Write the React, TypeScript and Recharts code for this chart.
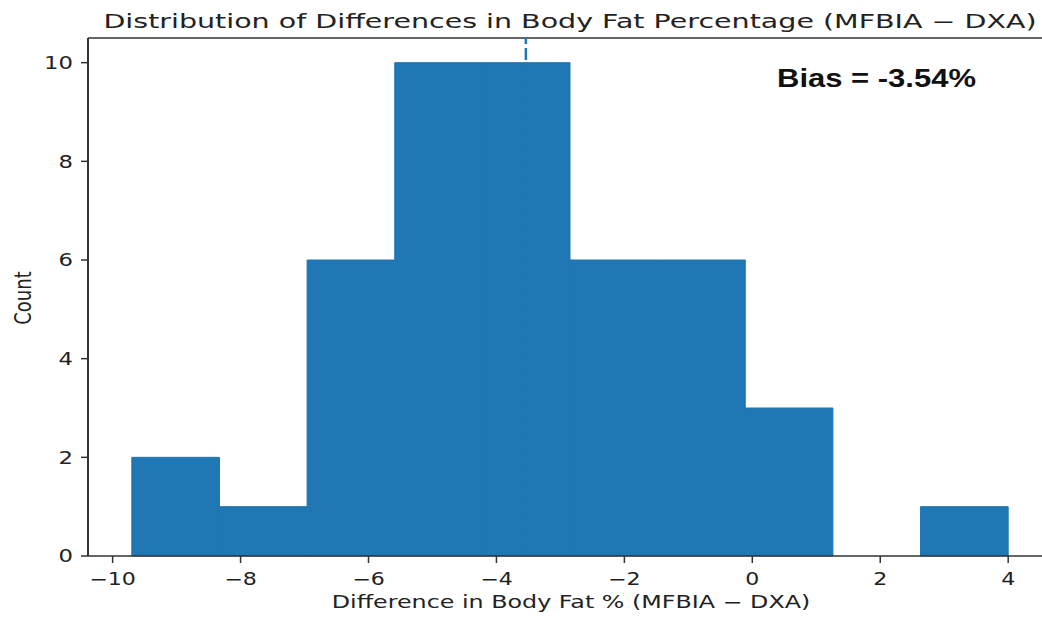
import React from "react";
import {
  ComposedChart,
  XAxis,
  YAxis,
  ReferenceArea,
  ReferenceLine,
} from "recharts";

// histogram bins
const binEdges = [-9.7, -8.33, -6.96, -5.59, -4.22, -2.85, -1.48, -0.11, 1.26, 2.63, 4.0];
const counts = [2, 1, 6, 10, 10, 6, 6, 3, 0, 1];
const bias = -3.54;
const xTicks = [-10, -8, -6, -4, -2, 0, 2, 4];
const yTicks = [0, 2, 4, 6, 8, 10];

const bins = counts.map((count, i) => ({
  x0: binEdges[i],
  x1: binEdges[i + 1],
  mid: (binEdges[i] + binEdges[i + 1]) / 2,
  count,
}));

const BLUE = "#1f77b4";
const INK = "#222";
const FONT = "DejaVu Sans, sans-serif";
// the source image is stretched sideways, so text is widened to match
const STRETCH = 1.3;

const fmt = (v: number) => (v < 0 ? `\u2212${Math.abs(v)}` : `${v}`);

const XTick = ({ x, y, payload }: any) => (
  <g transform={`translate(${x},${y})`}>
    <text
      transform={`scale(${STRETCH},1)`}
      textAnchor="middle"
      y={12}
      fontSize={17}
      fill={INK}
      fontFamily={FONT}
    >
      {fmt(payload.value)}
    </text>
  </g>
);

const YTick = ({ x, y, payload }: any) => (
  <g transform={`translate(${x},${y})`}>
    <text
      transform={`scale(${STRETCH},1)`}
      textAnchor="end"
      dy="0.36em"
      fontSize={17.5}
      fill={INK}
      fontFamily={FONT}
    >
      {fmt(payload.value)}
    </text>
  </g>
);

export default function App() {
  return (
    <div
      style={{
        position: "absolute",
        left: 0,
        top: 0,
        width: 1042,
        height: 617,
        overflow: "hidden",
        background: "white",
      }}
    >
      <ComposedChart
        width={1060}
        height={617}
        data={bins}
        margin={{ top: 38, right: 8, left: 0, bottom: 0 }}
      >
        <XAxis
          dataKey="mid"
          type="number"
          domain={[-10.385, 4.685]}
          ticks={xTicks}
          allowDataOverflow
          tickSize={7}
          tickMargin={10}
          height={61}
          axisLine={{ stroke: "#333", strokeWidth: 1.5 }}
          tickLine={{ stroke: "#333", strokeWidth: 1.5 }}
          tick={<XTick />}
        />
        <YAxis
          type="number"
          domain={[0, 10.5]}
          ticks={yTicks}
          allowDataOverflow
          tickSize={7}
          tickMargin={8}
          width={88}
          axisLine={{ stroke: "#333", strokeWidth: 2 }}
          tickLine={{ stroke: "#333", strokeWidth: 1.5 }}
          tick={<YTick />}
        />
        {bins.map((b, i) => (
          <ReferenceArea
            key={i}
            x1={b.x0}
            x2={b.x1}
            y1={0}
            y2={b.count}
            fill={BLUE}
            fillOpacity={1}
            stroke={BLUE}
            strokeWidth={1}
          />
        ))}
        <ReferenceLine y={10.5} stroke="#333" strokeWidth={1.5} />
        <ReferenceLine
          x={bias}
          stroke={BLUE}
          strokeWidth={2.5}
          strokeDasharray="12 4"
        />
      </ComposedChart>
      <svg
        width={1042}
        height={617}
        style={{ position: "absolute", left: 0, top: 0, pointerEvents: "none" }}
      >
        <g transform="translate(570,28)">
          <text transform="scale(1.5,1)" textAnchor="middle" fontSize={19} fill={INK} fontFamily={FONT}>
            Distribution of Differences in Body Fat Percentage (MFBIA − DXA)
          </text>
        </g>
        <g transform="translate(571,608)">
          <text transform="scale(1.4,1)" textAnchor="middle" fontSize={17} fill={INK} fontFamily={FONT}>
            Difference in Body Fat % (MFBIA − DXA)
          </text>
        </g>
        <g transform="translate(23,298)">
          <text
            transform={`scale(${STRETCH},1) rotate(-90)`}
            textAnchor="middle"
            dy="0.36em"
            fontSize={18}
            fill={INK}
            fontFamily={FONT}
          >
            Count
          </text>
        </g>
        <g transform="translate(777,87)">
          <text
            transform="scale(1.24,1)"
            fontSize={25}
            fontWeight="bold"
            fill="#111"
            fontFamily="Liberation Sans, Arial, sans-serif"
          >
            Bias = -3.54%
          </text>
        </g>
      </svg>
    </div>
  );
}
